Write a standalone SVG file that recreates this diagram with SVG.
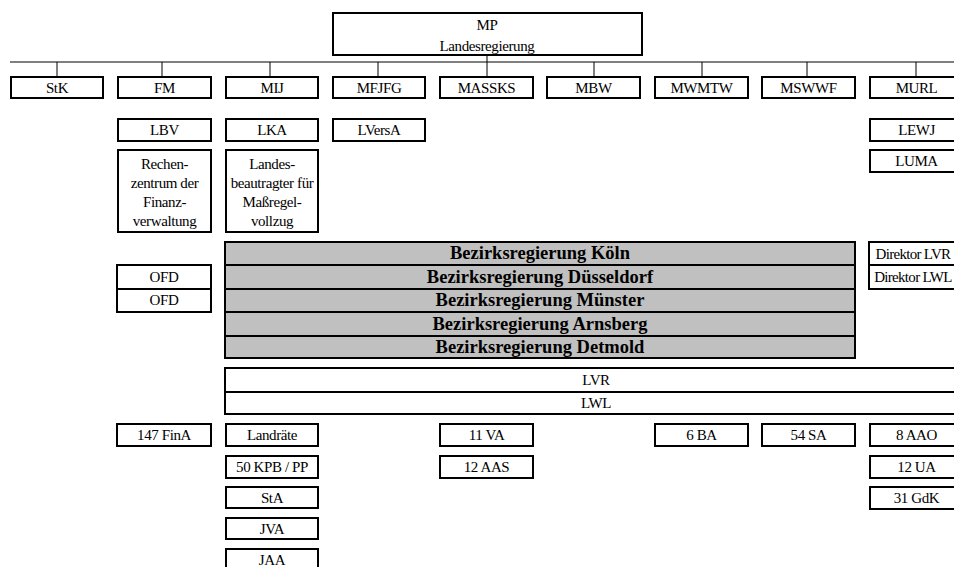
<svg xmlns="http://www.w3.org/2000/svg" width="954" height="567" viewBox="0 0 954 567">
<style>
rect{fill:#fff;stroke:#000;stroke-width:2}
rect.g{fill:#c0c0c0}
text{font-family:"Liberation Serif",Tinos,"Times New Roman",Times,"Noto Serif","DejaVu Serif",serif;font-size:15px;letter-spacing:-0.4px;text-anchor:middle;fill:#000}
text.b{font-weight:bold;font-size:18.5px;letter-spacing:0}
text.d{letter-spacing:-0.7px}
#connectors line{stroke:#000;stroke-width:1}
</style>
<rect x="0" y="0" width="954" height="567" style="stroke:none;fill:#fff"/>
<g id="connectors">
<line x1="487" y1="55" x2="487" y2="62"/>
<line x1="10" y1="62" x2="954" y2="62"/>
<line x1="57" y1="62" x2="57" y2="77"/>
<line x1="162" y1="62" x2="162" y2="77"/>
<line x1="270" y1="62" x2="270" y2="77"/>
<line x1="378" y1="62" x2="378" y2="77"/>
<line x1="487" y1="62" x2="487" y2="77"/>
<line x1="594" y1="62" x2="594" y2="77"/>
<line x1="702" y1="62" x2="702" y2="77"/>
<line x1="807" y1="62" x2="807" y2="77"/>
<line x1="916" y1="62" x2="916" y2="77"/>
</g>
<g font-family="Liberation Serif">
<g id="mp"><rect x="333" y="13" width="309" height="42"/><text x="487" y="30">MP</text><text x="487" y="51">Landesregierung</text></g>
<g id="stk"><rect x="11" y="77" width="92" height="21"/><text x="57" y="93">StK</text></g>
<g id="fm"><rect x="118" y="77" width="93" height="21"/><text x="164.5" y="93">FM</text></g>
<g id="mij"><rect x="226" y="77" width="92" height="21"/><text x="272" y="93">MIJ</text></g>
<g id="mfjfg"><rect x="333" y="77" width="92" height="21"/><text x="379" y="93">MFJFG</text></g>
<g id="massks"><rect x="440" y="77" width="93" height="21"/><text x="486.5" y="93">MASSKS</text></g>
<g id="mbw"><rect x="547" y="77" width="93" height="21"/><text x="593.5" y="93">MBW</text></g>
<g id="mwmtw"><rect x="655" y="77" width="93" height="21"/><text x="701.5" y="93">MWMTW</text></g>
<g id="mswwf"><rect x="762" y="77" width="93" height="21"/><text x="808.5" y="93">MSWWF</text></g>
<g id="murl"><rect x="870" y="77" width="93" height="21"/><text x="916.5" y="93">MURL</text></g>
<g id="lbv"><rect x="118" y="119" width="93" height="22"/><text x="164.5" y="135">LBV</text></g>
<g id="lka"><rect x="226" y="119" width="92" height="22"/><text x="272" y="135">LKA</text></g>
<g id="lversa"><rect x="333" y="119" width="92" height="22"/><text x="379" y="135">LVersA</text></g>
<g id="lewj"><rect x="870" y="119" width="93" height="22"/><text x="916.5" y="135">LEWJ</text></g>
<g id="luma"><rect x="870" y="150" width="93" height="22"/><text x="916.5" y="166">LUMA</text></g>
<g id="rechenzentrum"><rect x="118" y="150" width="93" height="82"/><text x="164.5" y="169">Rechen-</text><text x="164.5" y="188">zentrum der</text><text x="164.5" y="207">Finanz-</text><text x="164.5" y="226">verwaltung</text></g>
<g id="landesbeauftragter"><rect x="226" y="150" width="92" height="82"/><text x="272" y="169">Landes-</text><text x="272" y="188">beautragter für</text><text x="272" y="207">Maßregel-</text><text x="272" y="226">vollzug</text></g>
<g id="br-koeln"><rect class="g" x="225" y="242" width="630" height="23"/><text class="b" x="540" y="259">Bezirksregierung Köln</text></g>
<g id="br-duesseldorf"><rect class="g" x="225" y="265" width="630" height="24"/><text class="b" x="540" y="283">Bezirksregierung Düsseldorf</text></g>
<g id="br-muenster"><rect class="g" x="225" y="289" width="630" height="23"/><text class="b" x="540" y="306">Bezirksregierung Münster</text></g>
<g id="br-arnsberg"><rect class="g" x="225" y="312" width="630" height="24"/><text class="b" x="540" y="330">Bezirksregierung Arnsberg</text></g>
<g id="br-detmold"><rect class="g" x="225" y="336" width="630" height="22"/><text class="b" x="540" y="353">Bezirksregierung Detmold</text></g>
<g id="ofd1"><rect x="117" y="265" width="94" height="24"/><text x="164" y="282">OFD</text></g>
<g id="ofd2"><rect x="117" y="289" width="94" height="23"/><text x="164" y="305">OFD</text></g>
<g id="dir-lvr"><rect x="869" y="242" width="94" height="23"/><text class="d" x="913" y="259">Direktor LVR</text></g>
<g id="dir-lwl"><rect x="869" y="265" width="94" height="24"/><text class="d" x="913" y="282">Direktor LWL</text></g>
<g id="lvr"><rect x="225" y="368" width="742" height="24"/><text x="596" y="385">LVR</text></g>
<g id="lwl"><rect x="225" y="392" width="742" height="22"/><text x="596" y="408">LWL</text></g>
<g id="fina"><rect x="117" y="424" width="94" height="22"/><text x="164" y="440">147 FinA</text></g>
<g id="landraete"><rect x="226" y="424" width="92" height="22"/><text x="272" y="440">Landräte</text></g>
<g id="kpb"><rect x="226" y="456" width="92" height="22"/><text x="272" y="472">50 KPB / PP</text></g>
<g id="sta"><rect x="226" y="487" width="92" height="21"/><text x="272" y="503">StA</text></g>
<g id="jva"><rect x="226" y="518" width="92" height="21"/><text x="272" y="534">JVA</text></g>
<g id="jaa"><rect x="226" y="549" width="92" height="22"/><text x="272" y="565">JAA</text></g>
<g id="va"><rect x="440" y="424" width="93" height="22"/><text x="486.5" y="440">11 VA</text></g>
<g id="aas"><rect x="440" y="456" width="93" height="22"/><text x="486.5" y="472">12 AAS</text></g>
<g id="ba"><rect x="655" y="424" width="93" height="22"/><text x="701.5" y="440">6 BA</text></g>
<g id="sa"><rect x="762" y="424" width="93" height="22"/><text x="808.5" y="440">54 SA</text></g>
<g id="aao"><rect x="870" y="424" width="93" height="22"/><text x="916.5" y="440">8 AAO</text></g>
<g id="ua"><rect x="870" y="456" width="93" height="22"/><text x="916.5" y="472">12 UA</text></g>
<g id="gdk"><rect x="870" y="487" width="93" height="22"/><text x="916.5" y="503">31 GdK</text></g>
</g>
</svg>
